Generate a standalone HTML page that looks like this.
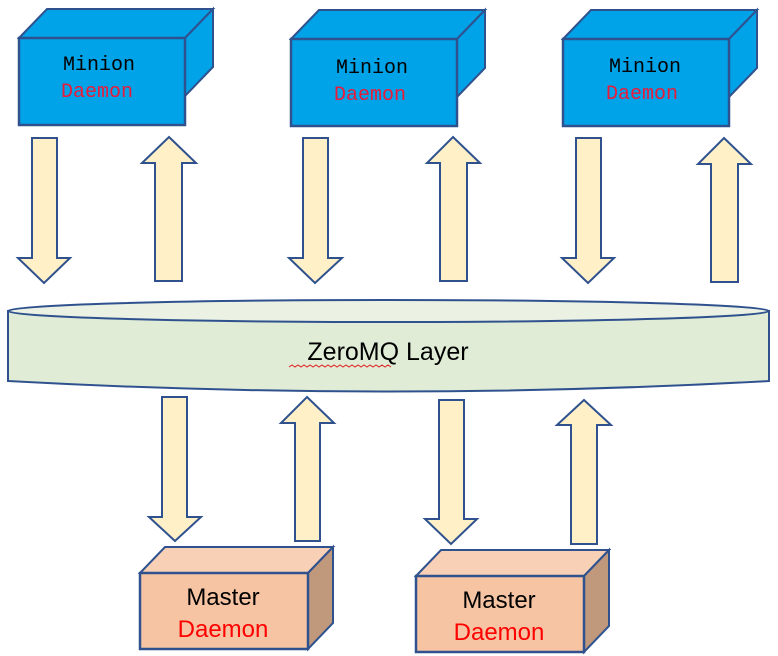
<!DOCTYPE html>
<html><head><meta charset="utf-8"><style>html,body{margin:0;padding:0;background:#fff}svg{display:block}</style></head>
<body>
<svg width="778" height="656" viewBox="0 0 778 656" xmlns="http://www.w3.org/2000/svg">
<defs>
<g id="mbox">
<polygon points="0,29 28,0 194,0 166,29" fill="#00a2e8" stroke="#2f528f" stroke-width="2"/>
<polygon points="166,29 194,0 194,58 166,87" fill="#00a2e8" stroke="#2f528f" stroke-width="2"/>
<rect x="0" y="29" width="166" height="87" fill="#00a2e8" stroke="#2f528f" stroke-width="2.5"/>
</g>
<g id="sbox">
<polygon points="0,26 25,0 193,0 168,26" fill="#f8d0b5" stroke="#2f528f" stroke-width="2"/>
<polygon points="168,26 193,0 193,76 168,102" fill="#c0987c" stroke="#2f528f" stroke-width="2"/>
<rect x="0" y="26" width="168" height="76" fill="#f6c4a3" stroke="#2f528f" stroke-width="2.5"/>
</g>
</defs>
<g fill="#fff0c8" stroke="#2f528f" stroke-width="2">
<!-- top arrows -->
<polygon points="32,138 57,138 57,258 70,258 44,283 18,258 32,258"/>
<polygon points="169,137 196,163 182,163 182,281 155,281 155,163 142,163"/>
<polygon points="303,138 328,138 328,258 342,258 315,283 289,258 303,258"/>
<polygon points="453,137 480,163 467,163 467,281 440,281 440,163 427,163"/>
<polygon points="576,138 601,138 601,258 614,258 588,283 562,258 576,258"/>
<polygon points="724,138 751,164 738,164 738,282 711,282 711,164 698,164"/>
<!-- bottom arrows -->
<polygon points="162,397 187,397 187,517 201,517 175,541 149,517 162,517"/>
<polygon points="307,397 334,423 320,423 320,541 295,541 295,423 281,423"/>
<polygon points="439,400 464,400 464,519 477,519 451,544 425,519 439,519"/>
<polygon points="584,400 611,425 597,425 597,544 571,544 571,425 557,425"/>
</g>
<!-- cylinder -->
<path d="M8,311 L8,381 Q389,402 769,381 L769,311 Z" fill="#e0ecd6" stroke="#2f528f" stroke-width="2"/>
<ellipse cx="388.5" cy="311" rx="380.5" ry="11" fill="#ebf2e3" stroke="#2f528f" stroke-width="2"/>
<text x="388" y="360" font-family="Liberation Sans, sans-serif" font-size="25" text-anchor="middle" fill="#000">ZeroMQ Layer</text>
<path d="M289,367 l3,-2 3,2 3,-2 3,2 3,-2 3,2 3,-2 3,2 3,-2 3,2 3,-2 3,2 3,-2 3,2 3,-2 3,2 3,-2 3,2 3,-2 3,2 3,-2 3,2 3,-2 3,2 3,-2 3,2 3,-2 3,2 3,-2 3,2 3,-2 3,2 3,-2 3,2" fill="none" stroke="#e02020" stroke-width="1"/>
<!-- minion boxes -->
<use href="#mbox" x="19" y="9"/>
<use href="#mbox" x="291" y="10"/>
<use href="#mbox" x="563" y="10"/>
<g font-family="Liberation Mono, monospace" font-size="20" text-anchor="middle">
<text x="99" y="70" fill="#000">Minion</text><text x="97" y="97" fill="#e81c3a">Daemon</text>
<text x="372" y="73" fill="#000">Minion</text><text x="370" y="100" fill="#e81c3a">Daemon</text>
<text x="645" y="72" fill="#000">Minion</text><text x="642" y="99" fill="#e81c3a">Daemon</text>
</g>
<!-- master boxes -->
<use href="#sbox" x="140" y="547"/>
<use href="#sbox" x="416" y="550"/>
<g font-family="Liberation Sans, sans-serif" font-size="24" text-anchor="middle">
<text x="223" y="605" fill="#000">Master</text><text x="223" y="637" fill="#ff0000">Daemon</text>
<text x="499" y="608" fill="#000">Master</text><text x="499" y="640" fill="#ff0000">Daemon</text>
</g>
</svg>
</body></html>
